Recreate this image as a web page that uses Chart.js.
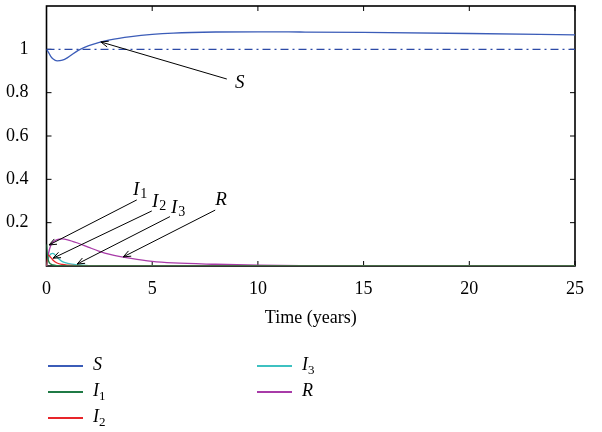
<!DOCTYPE html>
<html>
<head>
<meta charset="utf-8">
<script src="https://cdn.jsdelivr.net/npm/chart.js@4.4.1/dist/chart.umd.min.js"></script>
<style>
    body { margin: 0; background: #fff; }
    #wrap { position: relative; width: 602px; height: 432px; }
    #legend { position: absolute; left: 0; top: 0; font-family: "Liberation Serif", serif; font-size: 18px; font-style: italic; color: #000; }
    .item { position: absolute; height: 20px; }
    .item .swatch { position: absolute; left: 0; top: 9px; width: 35px; height: 2px; }
    .item .lbl { position: absolute; left: 45px; top: -2px; white-space: nowrap; }
    .item sub { font-style: normal; font-size: 13px; vertical-align: -4px; }
</style>
</head>
<body>
<div id="wrap">
    <canvas id="chart" width="602" height="432"></canvas>
    <div id="legend"></div>
</div>
<script>
// time (years)
const time = [0, 0.05, 0.1, 0.2, 0.3, 0.5, 0.75, 1, 1.5, 2, 2.5, 3, 4, 5, 6, 8, 10, 12, 15, 20, 25];
const S  = [1.000, 0.993, 0.985, 0.968, 0.957, 0.947, 0.950, 0.962, 0.995, 1.017, 1.032, 1.044, 1.059, 1.069, 1.075, 1.080, 1.081, 1.080, 1.078, 1.073, 1.067];
const I1 = [0.100, 0.045, 0.022, 0.009, 0.005, 0.002, 0.001, 0.0005, 0, 0, 0, 0, 0, 0, 0, 0, 0, 0, 0, 0, 0];
const I2 = [0, 0.040, 0.050, 0.040, 0.028, 0.014, 0.007, 0.004, 0.001, 0, 0, 0, 0, 0, 0, 0, 0, 0, 0, 0, 0];
const I3 = [0, 0.020, 0.038, 0.055, 0.058, 0.040, 0.020, 0.012, 0.005, 0.002, 0.001, 0, 0, 0, 0, 0, 0, 0, 0, 0, 0];
const R  = [0, 0.030, 0.060, 0.095, 0.110, 0.122, 0.125, 0.121, 0.105, 0.086, 0.068, 0.054, 0.035, 0.021, 0.014, 0.008, 0.004, 0.002, 0.001, 0, 0];

// equilibrium level of S (dash-dot)
const eqTime = [0, 25];
const eqS = [1, 1];

const xTicks = [0, 5, 10, 15, 20, 25];
const yTicks = [0.2, 0.4, 0.6, 0.8, 1];

// arrow annotations: label, subscript, tip, tail, label anchor (data coords)
const notes = [
    { text: 'S', sub: '',  tip: [2.57, 1.034], tail: [8.53, 0.863], at: [8.92, 0.822] },
    { text: 'I', sub: '1', tip: [0.12, 0.097], tail: [4.27, 0.305], at: [4.09, 0.328] },
    { text: 'I', sub: '2', tip: [0.31, 0.036], tail: [4.98, 0.254], at: [4.99, 0.274] },
    { text: 'I', sub: '3', tip: [1.45, 0.009], tail: [5.84, 0.228], at: [5.89, 0.243] },
    { text: 'R', sub: '',  tip: [3.63, 0.042], tail: [7.98, 0.258], at: [7.98, 0.282] }
];

const colors = { S: '#3b5cb8', I1: '#1f7a45', I2: '#e8252a', I3: '#3ec1c1', R: '#a83ba8' };

const pts = (xs, ys) => xs.map((t, i) => ({ x: t, y: ys[i] }));

const line = (label, ys, color) => ({
    label: label,
    data: pts(time, ys),
    borderColor: color,
    borderWidth: 1.3,
    pointRadius: 0,
    cubicInterpolationMode: 'monotone',
    fill: false
});

const frame = {
    id: 'frame',
    beforeDatasetsDraw(chart) {
        const { ctx, chartArea: a, scales: { x, y } } = chart;
        ctx.save();
        ctx.strokeStyle = '#000';
        ctx.lineWidth = 1.6;
        ctx.strokeRect(a.left, a.top, a.width, a.height);
        ctx.lineWidth = 1;
        ctx.beginPath();
        xTicks.forEach(v => {
            const px = x.getPixelForValue(v);
            ctx.moveTo(px, a.bottom); ctx.lineTo(px, a.bottom - 5);
            ctx.moveTo(px, a.top); ctx.lineTo(px, a.top + 5);
        });
        yTicks.forEach(v => {
            const py = y.getPixelForValue(v);
            ctx.moveTo(a.left, py); ctx.lineTo(a.left + 5, py);
            ctx.moveTo(a.right, py); ctx.lineTo(a.right - 5, py);
        });
        ctx.stroke();
        ctx.restore();
    },
    afterDatasetsDraw(chart) {
        const { ctx, scales: { x, y } } = chart;
        ctx.save();
        ctx.strokeStyle = '#000';
        ctx.fillStyle = '#000';
        ctx.lineWidth = 1;
        notes.forEach(n => {
            const tx = x.getPixelForValue(n.tip[0]), ty = y.getPixelForValue(n.tip[1]);
            const sx = x.getPixelForValue(n.tail[0]), sy = y.getPixelForValue(n.tail[1]);
            const ang = Math.atan2(sy - ty, sx - tx);
            ctx.beginPath();
            ctx.moveTo(sx, sy); ctx.lineTo(tx, ty);
            ctx.moveTo(tx + 8 * Math.cos(ang + 0.38), ty + 8 * Math.sin(ang + 0.38));
            ctx.lineTo(tx, ty);
            ctx.lineTo(tx + 8 * Math.cos(ang - 0.38), ty + 8 * Math.sin(ang - 0.38));
            ctx.stroke();

            const lx = x.getPixelForValue(n.at[0]), ly = y.getPixelForValue(n.at[1]);
            ctx.textBaseline = 'alphabetic';
            ctx.font = 'italic 19px "Liberation Serif"';
            ctx.fillText(n.text, lx, ly);
            if (n.sub) {
                const w = ctx.measureText(n.text).width;
                ctx.font = '14px "Liberation Serif"';
                ctx.fillText(n.sub, lx + w + 1, ly + 3);
            }
        });
        ctx.restore();
    }
};

new Chart(document.getElementById('chart'), {
    type: 'line',
    data: {
        datasets: [
            {
                label: 'S*',
                data: pts(eqTime, eqS),
                borderColor: '#2c4aa6',
                borderWidth: 1.2,
                borderDash: [8, 4, 2, 4],
                pointRadius: 0
            },
            line('S', S, colors.S),
            line('I1', I1, colors.I1),
            line('I2', I2, colors.I2),
            line('I3', I3, colors.I3),
            line('R', R, colors.R)
        ]
    },
    options: {
        responsive: false,
        animation: false,
        layout: { padding: { left: 0, right: 27, top: 6, bottom: 103 } },
        plugins: { legend: { display: false }, tooltip: { enabled: false } },
        scales: {
            x: {
                type: 'linear',
                min: 0,
                max: 25,
                afterBuildTicks: s => { s.ticks = xTicks.map(v => ({ value: v })); },
                afterFit: s => { s.height = 63; s.paddingLeft = 0; s.paddingRight = 0; },
                grid: { display: false },
                border: { display: false },
                ticks: { color: '#000', padding: 4, maxRotation: 0, font: { family: 'Liberation Serif', size: 18 }, callback: v => String(v) },
                title: { display: true, text: 'Time (years)', color: '#000', padding: 0, font: { family: 'Liberation Serif', size: 18 } }
            },
            y: {
                min: 0,
                max: 1.2,
                afterBuildTicks: s => { s.ticks = yTicks.map(v => ({ value: v })); },
                afterFit: s => { s.width = 46.5; s.paddingTop = 0; s.paddingBottom = 0; },
                grid: { display: false },
                border: { display: false },
                ticks: { color: '#000', padding: 10, font: { family: 'Liberation Serif', size: 18 }, callback: v => String(v) }
            }
        }
    },
    plugins: [frame]
});

// legend, two columns like the figure
const legendItems = [
    { name: 'S', sub: '',  color: colors.S,  left: 48,  top: 356 },
    { name: 'I', sub: '1', color: colors.I1, left: 48,  top: 382 },
    { name: 'I', sub: '2', color: colors.I2, left: 48,  top: 408 },
    { name: 'I', sub: '3', color: colors.I3, left: 257, top: 356 },
    { name: 'R', sub: '',  color: colors.R,  left: 257, top: 382 }
];
const legend = document.getElementById('legend');
legendItems.forEach(it => {
    const d = document.createElement('div');
    d.className = 'item';
    d.style.left = it.left + 'px';
    d.style.top = it.top + 'px';
    d.innerHTML = `<div class="swatch" style="background:${it.color}"></div><div class="lbl">${it.name}${it.sub ? '<sub>' + it.sub + '</sub>' : ''}</div>`;
    legend.appendChild(d);
});
</script>
</body>
</html>
